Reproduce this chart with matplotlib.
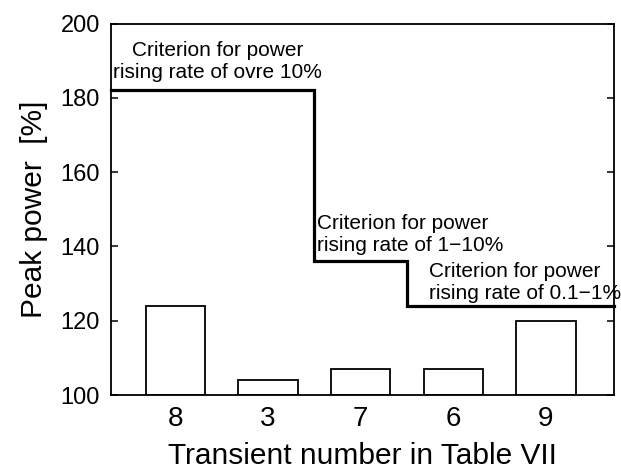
import matplotlib
matplotlib.use("Agg")
import matplotlib.pyplot as plt

# Datos
transitorios = ["8", "3", "7", "6", "9"]
potencia_pico = [124, 104, 107, 107, 120]

# Criterios de potencia (escalón): bordes en x y nivel de cada tramo
criterio_bordes = [-0.695, 1.5, 2.5, 4.73]
criterio_niveles = [182, 136, 124]
criterio_textos = [
    "Criterion for power\nrising rate of ovre 10%",
    "Criterion for power\nrising rate of 1\u221210%",
    "Criterion for power\nrising rate of 0.1\u22121%",
]

plt.rcParams["font.family"] = ["Liberation Sans", "DejaVu Sans"]

fig = plt.figure(figsize=(6.21, 4.72), dpi=100)
ax = fig.add_axes([0.179, 0.163, 0.809, 0.787])

x = list(range(len(transitorios)))
ax.bar(x, [v - 100 for v in potencia_pico], bottom=100, width=0.64,
       color="white", edgecolor="black", linewidth=1.3)

# Línea escalonada del criterio
xs, ys = [], []
for i, nivel in enumerate(criterio_niveles):
    xs += [criterio_bordes[i], criterio_bordes[i + 1]]
    ys += [nivel, nivel]
ax.plot(xs, ys, color="black", linewidth=2.3, solid_joinstyle="miter",
        clip_on=False)

ax.text(0.45, 184.3, criterio_textos[0], ha="center", va="bottom",
        fontsize=15, linespacing=1.2)
ax.text(1.53, 137.8, criterio_textos[1], ha="left", va="bottom",
        fontsize=15, linespacing=1.2)
ax.text(2.74, 124.8, criterio_textos[2], ha="left", va="bottom",
        fontsize=15, linespacing=1.2)

ax.set_xlim(criterio_bordes[0], criterio_bordes[-1])
ax.set_ylim(100, 200)
ax.set_yticks([100, 120, 140, 160, 180, 200])
ax.set_xticks(x)
ax.set_xticklabels(transitorios)

ax.tick_params(axis="y", direction="in", length=5, width=1.1,
               right=True, labelsize=17, pad=8)
ax.tick_params(axis="x", length=0, labelsize=20, pad=8)
for s in ax.spines.values():
    s.set_linewidth(1.3)

ax.set_xlabel("Transient number in Table VII", fontsize=21.5, labelpad=7)
ax.set_ylabel("Peak power  [%]", fontsize=21.5, labelpad=9)

fig.savefig("out.png", dpi=100)
